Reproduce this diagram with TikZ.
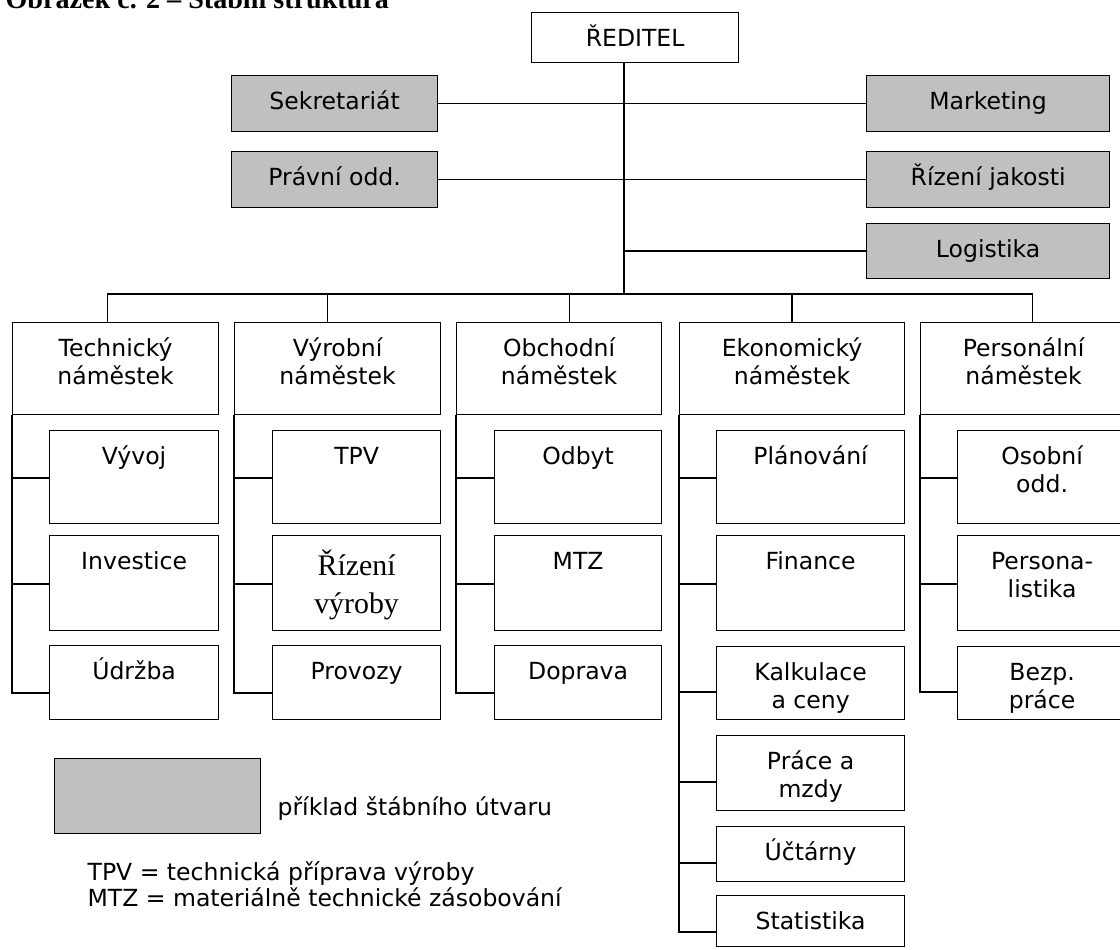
\documentclass[tikz,border=0pt]{standalone}
\usepackage{fontspec}
\setmainfont{DejaVu Sans}
\newfontfamily\titlefont{Liberation Serif}
\usepackage{tikz}

\definecolor{stabgray}{HTML}{C0C0C0}

\begin{document}
\begin{tikzpicture}[x=0.02cm, y=-0.02cm, line width=0.7pt,
  every node/.style={font=\fontsize{13.4pt}{15.9pt}\selectfont},
  unit/.style={draw, anchor=north west, align=center, inner xsep=0pt,
    inner ysep=0pt, text height=0.68cm},
  twolines/.style={text height=1.24cm},
  staff/.style={unit, fill=stabgray},
  sub/.style={unit, minimum width=3.38cm}]

\useasboundingbox (0,0) rectangle (1120,950);
\clip (0,0) rectangle (1120,950);

% Title (cut at the top)
\node[anchor=base west, inner sep=0pt,
  font=\titlefont\bfseries\fontsize{16pt}{18pt}\selectfont] (title) at (5,9)
  {Obrázek č. 2 – Štábní struktura};

% Reditel
\node[unit, minimum width=4.14cm, text depth=0.32cm] (red) at (531,12) {ŘEDITEL};

% Stabni utvary
\node[staff, minimum width=4.12cm, text depth=0.44cm] (sek) at (231,75) {Sekretariát};
\node[staff, minimum width=4.12cm, text depth=0.44cm] (prav) at (231,151) {Právní odd.};
\node[staff, minimum width=4.86cm, text depth=0.44cm] (mark) at (866,75) {Marketing};
\node[staff, minimum width=4.86cm, text depth=0.44cm] (riz) at (866,151) {Řízení jakosti};
\node[staff, minimum width=4.86cm, text depth=0.42cm] (log) at (866,223) {Logistika};

% Namestci
\node[unit, twolines, minimum width=4.12cm, text depth=0.60cm] (tech) at (12,322) {Technický\\náměstek};
\node[unit, twolines, minimum width=4.12cm, text depth=0.60cm] (vyr) at (234,322) {Výrobní\\náměstek};
\node[unit, twolines, minimum width=4.10cm, text depth=0.60cm] (obch) at (456,322) {Obchodní\\náměstek};
\node[unit, twolines, minimum width=4.50cm, text depth=0.60cm] (ekon) at (679,322) {Ekonomický\\náměstek};
\node[unit, twolines, minimum width=4.12cm, text depth=0.60cm] (pers) at (920,322) {Personální\\náměstek};

% Technicky namestek
\node[sub, text depth=1.18cm] (vyvoj) at (49,430) {Vývoj};
\node[sub, text depth=1.22cm] (invest) at (49,535) {Investice};
\node[sub, text depth=0.80cm] (udrzba) at (49,645) {Údržba};

% Vyrobni namestek
\node[sub, minimum width=3.36cm, text depth=1.18cm] (tpv) at (272,430) {TPV};
\node[sub, minimum width=3.36cm, text height=1.56cm, text depth=0.34cm,
  font=\titlefont\fontsize{17pt}{21.6pt}\selectfont] (rizvyr) at (272,535) {Řízení\\výroby};
\node[sub, minimum width=3.36cm, text depth=0.80cm] (provozy) at (272,645) {Provozy};

% Obchodni namestek
\node[sub, minimum width=3.34cm, text depth=1.18cm] (odbyt) at (494,430) {Odbyt};
\node[sub, minimum width=3.34cm, text depth=1.22cm] (mtzu) at (494,535) {MTZ};
\node[sub, minimum width=3.34cm, text depth=0.80cm] (doprava) at (494,645) {Doprava};

% Ekonomicky namestek
\node[sub, minimum width=3.76cm, text depth=1.18cm] (plan) at (716,430) {Plánování};
\node[sub, minimum width=3.76cm, text depth=1.22cm] (fin) at (716,535) {Finance};
\node[sub, twolines, minimum width=3.76cm, text depth=0.22cm] (kalk) at (716,646) {Kalkulace\\a ceny};
\node[sub, twolines, minimum width=3.76cm, text depth=0.26cm] (prace) at (716,735) {Práce a\\mzdy};
\node[sub, minimum width=3.76cm, text depth=0.42cm] (uct) at (716,826) {Účtárny};
\node[sub, minimum width=3.76cm, text depth=0.34cm] (stat) at (716,895) {Statistika};

% Personalni namestek
\node[sub, twolines, text depth=0.62cm] (osob) at (957,430) {Osobní\\odd.};
\node[sub, twolines, text depth=0.66cm] (perso) at (957,535) {Persona-\\listika};
\node[sub, twolines, text depth=0.22cm] (bezp) at (957,646) {Bezp.\\práce};

% Linie reditele
\coordinate (trunk) at (624,294);
\draw (red.south -| trunk) -- (trunk);
\draw (sek.east) -- (mark.west);
\draw (prav.east) -- (riz.west);
\draw (log.west -| trunk) -- (log.west);

\draw (trunk) -| ([xshift=-0.16cm]tech.north);
\draw (trunk) -| ([xshift=-0.20cm]vyr.north);
\draw (trunk) -| ([xshift=0.21cm]obch.north);
\draw (trunk) -| (ekon.north);
\draw (trunk) -| ([xshift=0.18cm]pers.north);

% Vetve utvaru
\draw (tech.south west) |- ([yshift=-0.96cm]vyvoj.north west);
\draw (tech.south west) |- ([yshift=-0.98cm]invest.north west);
\draw (tech.south west) |- ([yshift=-0.96cm]udrzba.north west);

\draw (vyr.south west) |- ([yshift=-0.96cm]tpv.north west);
\draw (vyr.south west) |- ([yshift=-0.98cm]rizvyr.north west);
\draw (vyr.south west) |- ([yshift=-0.96cm]provozy.north west);

\draw (obch.south west) |- ([yshift=-0.96cm]odbyt.north west);
\draw (obch.south west) |- ([yshift=-0.98cm]mtzu.north west);
\draw (obch.south west) |- ([yshift=-0.96cm]doprava.north west);

\draw (ekon.south west) |- ([yshift=-0.96cm]plan.north west);
\draw (ekon.south west) |- ([yshift=-0.98cm]fin.north west);
\draw (ekon.south west) |- ([yshift=-0.92cm]kalk.north west);
\draw (ekon.south west) |- ([yshift=-0.94cm]prace.north west);
\draw (ekon.south west) |- ([yshift=-0.74cm]uct.north west);
\draw (ekon.south west) |- ([yshift=-0.74cm]stat.north west);

\draw (pers.south west) |- ([yshift=-0.96cm]osob.north west);
\draw (pers.south west) |- ([yshift=-0.98cm]perso.north west);
\draw (pers.south west) |- ([yshift=-0.92cm]bezp.north west);

% Legenda
\node[staff, minimum width=4.12cm, text depth=0.82cm] (legbox) at (54,758) {};
\node[anchor=base west, inner sep=0pt] (legtext) at (277,815) {příklad štábního útvaru};
\node[anchor=base west, inner sep=0pt] (legtpv) at (87,880) {TPV = technická příprava výroby};
\node[anchor=base west, inner sep=0pt] (legmtz) at (87,906) {MTZ = materiálně technické zásobování};

\end{tikzpicture}
\end{document}
